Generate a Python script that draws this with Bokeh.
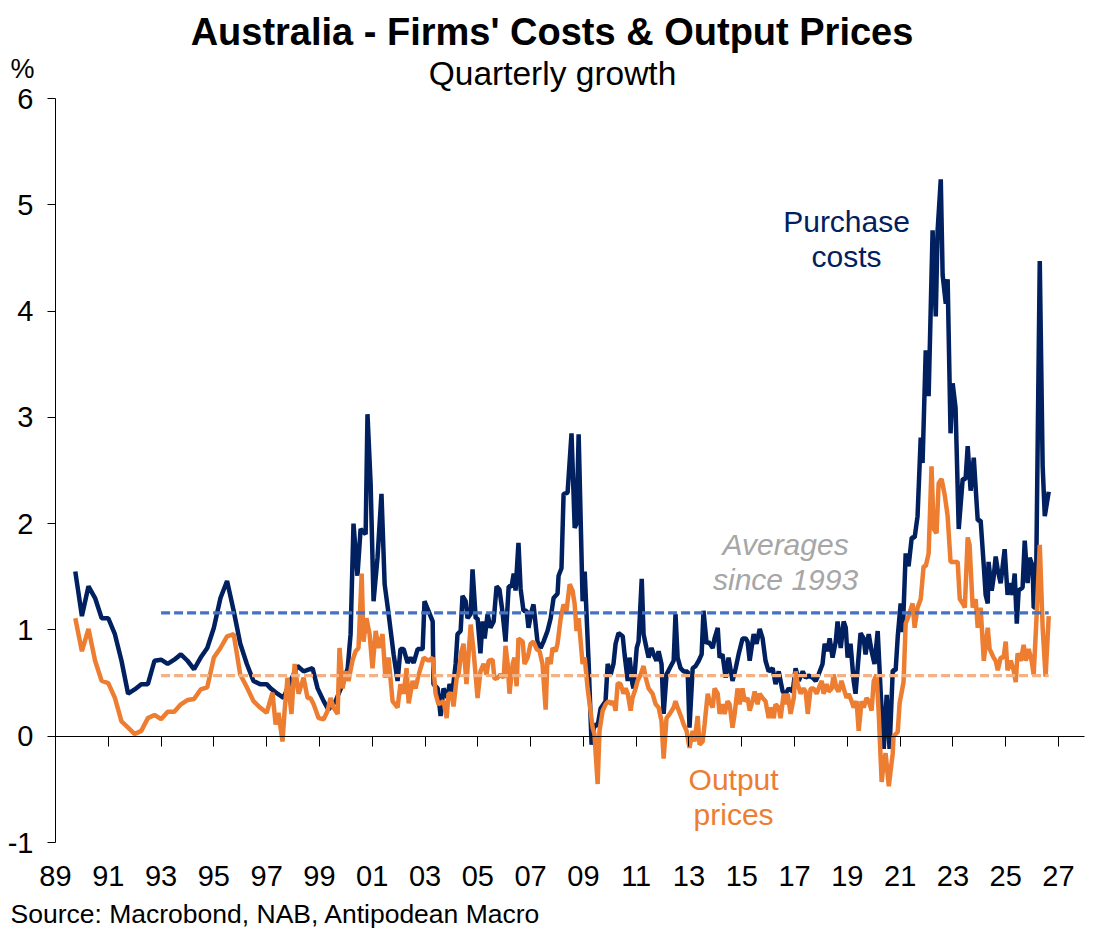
from bokeh.plotting import figure
from bokeh.models import Range1d, FixedTicker, LinearAxis, Label
from bokeh.embed import file_html
from bokeh.resources import INLINE

FONT = "Liberation Sans"
NAVY = "#002060"
ORANGE = "#ED7D31"
AVG_BLUE = "#4472C4"
AVG_ORANGE = "#F4B183"
GREY = "#A6A6A6"

# ---------------- data ----------------
# quarterly observations, 1989Q3 .. 1997Q1
q_dates = [1989.75 + 0.25 * k for k in range(30)]
pc_q = [1.55, 1.13, 1.41, 1.30, 1.11, 1.11, 0.96, 0.71, 0.40, 0.44,
        0.49, 0.49, 0.71, 0.72, 0.68, 0.72, 0.77, 0.71, 0.63, 0.74,
        0.83, 1.02, 1.30, 1.46, 1.18, 0.87, 0.68, 0.52, 0.49, 0.49]
op_q = [1.11, 0.80, 1.01, 0.71, 0.52, 0.50, 0.36, 0.14, 0.08, 0.02,
        0.05, 0.17, 0.20, 0.16, 0.23, 0.23, 0.30, 0.34, 0.35, 0.44,
        0.46, 0.74, 0.83, 0.94, 0.96, 0.58, 0.46, 0.33, 0.27, 0.22]

# monthly observations from 1997 (decimal years)
pc_m_dates = [
    1997.15, 1997.41, 1997.64, 1997.90,
    1998.17, 1998.40, 1998.74, 1998.93,
    1999.16, 1999.34, 1999.61, 1999.88,
    2000.07, 2000.18, 2000.29, 2000.44, 2000.56, 2000.75, 2000.82, 2000.94,
    2001.05, 2001.20, 2001.35, 2001.47, 2001.62, 2001.81, 2001.96,
    2002.07, 2002.19, 2002.34, 2002.45, 2002.57, 2002.72, 2002.91, 2002.98,
    2003.13, 2003.29, 2003.32, 2003.48, 2003.59, 2003.70, 2003.85, 2003.93,
    2004.04, 2004.16, 2004.23, 2004.35, 2004.42, 2004.54, 2004.61, 2004.73, 2004.80, 2004.92, 2004.99,
    2005.10, 2005.18, 2005.26, 2005.37, 2005.48, 2005.60, 2005.71, 2005.82, 2005.94,
    2006.05, 2006.17, 2006.28, 2006.36, 2006.43, 2006.54, 2006.62, 2006.73, 2006.85, 2006.92,
    2007.04, 2007.11, 2007.26, 2007.38, 2007.49, 2007.64, 2007.76, 2007.87,
    2008.02, 2008.06, 2008.17, 2008.25, 2008.40, 2008.55, 2008.67, 2008.74, 2008.82, 2008.97,
    2009.05, 2009.20, 2009.31, 2009.42, 2009.54, 2009.65, 2009.84, 2009.92,
    2010.03, 2010.14, 2010.22, 2010.33, 2010.49, 2010.56, 2010.68, 2010.75, 2010.86, 2010.90,
    2011.02, 2011.09, 2011.21, 2011.28, 2011.39, 2011.47, 2011.58, 2011.66, 2011.77, 2011.85, 2011.96,
    2012.04, 2012.15, 2012.27, 2012.42, 2012.49, 2012.57, 2012.68, 2012.80, 2012.95,
    2013.02, 2013.14, 2013.25, 2013.37, 2013.48, 2013.55, 2013.67, 2013.74, 2013.90, 2013.97,
    2014.09, 2014.16, 2014.27, 2014.39, 2014.50, 2014.65, 2014.77, 2014.88,
    2015.03, 2015.15, 2015.22, 2015.30, 2015.45, 2015.56, 2015.68, 2015.79, 2015.90,
    2016.02, 2016.17, 2016.28, 2016.40, 2016.55, 2016.66, 2016.78, 2016.93,
    2017.04, 2017.16, 2017.31, 2017.42, 2017.53, 2017.69, 2017.80, 2017.91,
    2018.06, 2018.14, 2018.25, 2018.33, 2018.44, 2018.56, 2018.63, 2018.75, 2018.86, 2018.94,
    2019.01, 2019.12, 2019.24, 2019.31, 2019.39, 2019.50, 2019.62, 2019.69, 2019.81, 2019.92,
    2020.03, 2020.15, 2020.26, 2020.38, 2020.49, 2020.60, 2020.72, 2020.83, 2020.91,
    2021.02, 2021.10, 2021.21, 2021.32, 2021.44, 2021.55, 2021.66, 2021.78, 2021.85, 2021.97,
    2022.08, 2022.23, 2022.35, 2022.42, 2022.54, 2022.61, 2022.73, 2022.80, 2022.91, 2022.99,
    2023.10, 2023.22, 2023.37, 2023.48, 2023.56, 2023.67, 2023.79, 2023.94,
    2024.05, 2024.17, 2024.24, 2024.32, 2024.35, 2024.47, 2024.54, 2024.62, 2024.70, 2024.81, 2024.96,
    2025.07, 2025.15, 2025.26, 2025.34, 2025.42, 2025.49, 2025.64, 2025.72, 2025.83, 2025.91,
    2026.02, 2026.06, 2026.14, 2026.29, 2026.40, 2026.48, 2026.63,
]
pc_m = [
    0.45, 0.40, 0.36, 0.52,
    0.66, 0.61, 0.64, 0.45,
    0.33, 0.25, 0.33, 0.49,
    0.64, 0.96, 2.00, 1.51, 1.95, 1.90, 3.03, 2.37,
    1.27, 1.68, 2.28, 1.43, 1.15, 0.77, 0.52,
    0.82, 0.82, 0.69, 0.74, 0.69, 0.82, 0.82, 1.27,
    1.18, 1.08, 0.49, 0.45, 0.19, 0.45, 0.36, 0.49,
    0.42, 0.68, 0.96, 0.99, 1.32, 1.27, 1.11, 1.15, 1.57, 1.11, 1.11,
    0.78, 1.08, 0.92, 1.15, 1.02, 1.08, 1.41, 1.38, 1.16,
    0.89, 1.41, 1.41, 1.53, 1.37, 1.82, 1.39, 1.18, 1.18, 1.02,
    1.18, 1.24, 0.89, 0.83, 0.89, 0.99, 1.11, 1.30,
    1.34, 1.51, 1.58, 2.28, 2.29, 2.85, 1.96, 2.00, 2.84, 1.27,
    1.55, 0.68, -0.08, 0.11, 0.10, 0.26, 0.33, 0.68,
    0.58, 0.68, 0.87, 0.97, 0.94, 0.77, 0.52, 0.74, 0.49, 0.45,
    0.83, 0.89, 1.48, 0.96, 0.83, 0.74, 0.83, 0.77, 0.71, 0.80, 0.68,
    0.21, 0.58, 0.64, 0.71, 1.15, 0.74, 0.64, 0.61, 0.61,
    0.08, 0.64, 0.66, 0.71, 0.77, 1.18, 0.87, 0.89, 0.83, 0.92,
    1.02, 0.74, 0.77, 0.55, 0.74, 0.52, 0.64, 0.77,
    0.92, 0.92, 0.89, 0.71, 0.96, 0.87, 1.01, 0.92, 0.71,
    0.61, 0.64, 0.49, 0.61, 0.42, 0.40, 0.45, 0.42,
    0.64, 0.52, 0.61, 0.55, 0.57, 0.55, 0.52, 0.58,
    0.68, 0.87, 0.80, 0.92, 0.74, 0.89, 1.08, 0.83, 1.08, 1.02,
    0.74, 0.87, 0.52, 0.40, 0.64, 0.97, 0.92, 0.77, 0.96, 0.80,
    0.68, 0.99, 0.43, -0.12, 0.39, -0.12, 0.62, 0.62, 0.94,
    1.25, 0.98, 1.72, 1.60, 1.87, 1.87, 2.07, 2.81, 2.57, 3.63,
    3.20, 4.76, 3.95, 4.76, 5.24, 4.34, 4.07, 4.30, 2.85, 3.32,
    3.09, 1.95, 2.42, 2.42, 2.73, 2.31, 2.62, 2.03,
    2.03, 1.60, 1.33, 1.25, 1.64, 1.37, 1.49, 1.69, 1.56, 1.44, 1.76,
    1.33, 1.44, 1.33, 1.53, 1.06, 1.37, 1.40, 1.84, 1.44, 1.68,
    1.60, 1.21, 1.21, 4.47, 2.54, 2.07, 2.30,
]

op_m_dates = [
    1997.22, 1997.34, 1997.45, 1997.60, 1997.68, 1997.79, 1997.94,
    1998.06, 1998.21, 1998.40, 1998.55, 1998.66, 1998.78, 1998.97,
    1999.16, 1999.31, 1999.42, 1999.53, 1999.69, 1999.76, 1999.88, 1999.99,
    2000.10, 2000.25, 2000.37, 2000.48, 2000.60, 2000.67, 2000.78, 2000.90,
    2001.01, 2001.13, 2001.24, 2001.39, 2001.50, 2001.62, 2001.77, 2001.96,
    2002.07, 2002.19, 2002.30, 2002.38, 2002.53, 2002.64, 2002.76, 2002.95,
    2003.13, 2003.29, 2003.40, 2003.51, 2003.70, 2003.82, 2003.89,
    2004.01, 2004.08, 2004.20, 2004.27, 2004.38, 2004.46, 2004.57, 2004.73, 2004.84, 2004.99,
    2005.10, 2005.22, 2005.33, 2005.41, 2005.56, 2005.63, 2005.75, 2005.86, 2005.98,
    2006.05, 2006.13, 2006.20, 2006.32, 2006.39, 2006.47, 2006.54, 2006.70, 2006.77, 2006.89,
    2007.00, 2007.11, 2007.23, 2007.34, 2007.45, 2007.57, 2007.64, 2007.76, 2007.83, 2007.95,
    2008.02, 2008.14, 2008.25, 2008.36, 2008.48, 2008.59, 2008.67, 2008.74, 2008.82, 2008.97,
    2009.05, 2009.16, 2009.27, 2009.35, 2009.42, 2009.54, 2009.61, 2009.73, 2009.84, 2009.96,
    2010.07, 2010.14, 2010.22, 2010.30, 2010.41, 2010.52, 2010.60, 2010.68, 2010.79, 2010.86, 2010.98,
    2011.05, 2011.17, 2011.28, 2011.36, 2011.47, 2011.62, 2011.74, 2011.85, 2011.96,
    2012.04, 2012.15, 2012.27, 2012.42, 2012.49, 2012.57, 2012.72, 2012.80, 2012.91,
    2013.02, 2013.14, 2013.21, 2013.33, 2013.40, 2013.52, 2013.59, 2013.71, 2013.78, 2013.90, 2013.97,
    2014.09, 2014.16, 2014.27, 2014.35, 2014.46, 2014.54, 2014.65, 2014.73, 2014.84, 2014.92,
    2015.03, 2015.11, 2015.22, 2015.30, 2015.41, 2015.49, 2015.60, 2015.68, 2015.79, 2015.90,
    2016.02, 2016.09, 2016.21, 2016.28, 2016.40, 2016.47, 2016.59, 2016.66, 2016.74, 2016.85, 2016.97,
    2017.04, 2017.12, 2017.23, 2017.34, 2017.42, 2017.50, 2017.61, 2017.72, 2017.84, 2017.91,
    2018.03, 2018.10, 2018.22, 2018.29, 2018.41, 2018.48, 2018.59, 2018.67, 2018.78, 2018.86, 2018.97,
    2019.05, 2019.16, 2019.24, 2019.35, 2019.43, 2019.54, 2019.62, 2019.73, 2019.81, 2019.92,
    2020.00, 2020.11, 2020.19, 2020.30, 2020.38, 2020.45, 2020.57, 2020.72, 2020.75, 2020.91, 2020.98,
    2021.13, 2021.21, 2021.32, 2021.47, 2021.55, 2021.66, 2021.78, 2021.89, 2021.97,
    2022.08, 2022.19, 2022.27, 2022.38, 2022.46, 2022.57, 2022.69, 2022.80, 2022.91,
    2023.03, 2023.18, 2023.26, 2023.37, 2023.45, 2023.56, 2023.63, 2023.75, 2023.86, 2023.94,
    2024.05, 2024.17, 2024.32, 2024.39, 2024.54, 2024.62, 2024.70, 2024.81, 2024.92,
    2025.00, 2025.07, 2025.19, 2025.30, 2025.38, 2025.45, 2025.57, 2025.68, 2025.76, 2025.87, 2025.98,
    2026.06, 2026.17, 2026.29, 2026.40, 2026.51, 2026.63,
]
op_m = [
    0.41, 0.11, 0.22, -0.05, 0.24, 0.55, 0.21,
    0.68, 0.40, 0.55, 0.36, 0.36, 0.30, 0.17,
    0.16, 0.24, 0.36, 0.27, 0.21, 0.83, 0.45, 0.61,
    0.52, 0.71, 0.80, 0.83, 1.53, 0.89, 1.11, 0.96,
    0.64, 0.99, 0.83, 0.96, 0.55, 0.74, 0.33, 0.27,
    0.49, 0.40, 0.64, 0.31, 0.52, 0.45, 0.58, 0.74,
    0.71, 0.74, 0.40, 0.30, 0.33, 0.17, 0.40,
    0.40, 0.28, 0.55, 0.58, 0.80, 0.87, 0.49, 1.05, 0.80, 0.36,
    0.61, 0.68, 0.58, 0.71, 0.72, 0.54, 0.55, 0.58, 0.55,
    0.85, 0.68, 0.40, 0.68, 0.74, 0.47, 0.92, 0.89, 0.68, 0.74,
    0.87, 0.89, 0.82, 0.80, 0.68, 0.25, 0.74, 0.68, 0.83, 0.80,
    0.87, 1.11, 1.24, 1.18, 1.43, 1.37, 1.24, 0.99, 1.11, 0.68,
    0.74, 0.45, 0.24, 0.08, 0.02, -0.45, 0.05, 0.24, 0.30, 0.33,
    0.30, 0.33, 0.24, 0.50, 0.49, 0.40, 0.45, 0.40, 0.24, 0.36, 0.45,
    0.52, 0.58, 0.66, 0.55, 0.45, 0.40, 0.30, 0.27, 0.14,
    -0.21, 0.17, 0.21, 0.27, 0.33, 0.27, 0.17, 0.11, 0.05,
    -0.11, 0.05, -0.05, 0.19, -0.08, -0.05, 0.11, 0.40, 0.33, 0.27, 0.45,
    0.40, 0.21, 0.30, 0.21, 0.33, 0.30, 0.08, 0.21, 0.45, 0.30,
    0.45, 0.33, 0.36, 0.24, 0.33, 0.42, 0.30, 0.40, 0.36, 0.33,
    0.17, 0.27, 0.17, 0.30, 0.27, 0.17, 0.40, 0.30, 0.40, 0.21, 0.36,
    0.61, 0.49, 0.40, 0.45, 0.42, 0.21, 0.45, 0.45, 0.40, 0.45,
    0.52, 0.40, 0.49, 0.42, 0.45, 0.58, 0.45, 0.42, 0.52, 0.45, 0.36,
    0.40, 0.33, 0.27, 0.33, 0.05, 0.33, 0.27, 0.36, 0.33, 0.24,
    0.52, 0.58, 0.21, -0.43, -0.24, -0.16, -0.47, -0.16, 0.00, 0.04, 0.31,
    0.51, 1.06, 1.13, 1.25, 1.02, 1.21, 1.29, 1.60, 1.60,
    1.72, 2.54, 1.95, 1.91, 2.38, 2.42, 2.27, 2.07, 1.64,
    1.64, 1.64, 1.29, 1.25, 1.21, 1.87, 1.80, 1.21, 1.29, 1.02,
    1.21, 0.71, 1.02, 0.82, 0.74, 0.71, 0.62, 0.74, 0.74,
    0.89, 0.62, 0.71, 0.62, 0.51, 0.78, 0.71, 0.86, 0.71, 0.82, 0.71,
    0.58, 1.13, 1.80, 1.02, 0.56, 1.13,
]

# averages since 1993
avg_start = 1993.0
pc_avg = 1.16
op_avg = 0.57

x_ticks = list(range(1989, 2028, 2))
x_labels = {t: str(t)[2:] for t in x_ticks}
y_ticks = [-1, 0, 1, 2, 3, 4, 5, 6]
y_labels = {t: str(t) for t in y_ticks}

# --------------- assemble ---------------
n_pc = min(len(pc_m_dates), len(pc_m))
n_op = min(len(op_m_dates), len(op_m))
pc_x = q_dates + pc_m_dates[:n_pc]
pc_y = pc_q + pc_m[:n_pc]
op_x = q_dates + op_m_dates[:n_op]
op_y = op_q + op_m[:n_op]
end_date = max(pc_x[-1], op_x[-1])

# --------------- layout: the frame fills the canvas ---------------
W, H = 1096, 932
px_per_year = (1058 - 55) / 38.0
px_per_unit = (842 - 98) / 7.0
x_start = 1989 - 55 / px_per_year
x_end = x_start + W / px_per_year
y_top = 6 + 98 / px_per_unit
y_bottom = y_top - H / px_per_unit

p = figure(width=W, height=H,
           x_range=Range1d(x_start, x_end), y_range=Range1d(y_bottom, y_top),
           x_axis_location=None, y_axis_location=None,
           output_backend="svg", toolbar_location=None, min_border=0)
p.outline_line_color = None
p.grid.visible = False
p.background_fill_color = "white"
p.border_fill_color = "white"

xax = LinearAxis(fixed_location=0, bounds=(1989, 2028),
                 ticker=FixedTicker(ticks=x_ticks),
                 major_label_overrides=x_labels,
                 major_tick_out=10, major_tick_in=0,
                 minor_tick_line_color=None,
                 axis_line_color="black", major_tick_line_color="black",
                 major_label_standoff=120,
                 major_label_text_font=FONT, major_label_text_font_size="29px",
                 major_label_text_color="black")
p.add_layout(xax, "below")

yax = LinearAxis(fixed_location=1989, bounds=(-1, 6),
                 ticker=FixedTicker(ticks=y_ticks),
                 major_label_overrides=y_labels,
                 major_tick_out=8, major_tick_in=0,
                 minor_tick_line_color=None,
                 axis_line_color="black", major_tick_line_color="black",
                 major_label_standoff=14,
                 major_label_text_font=FONT, major_label_text_font_size="29px",
                 major_label_text_color="black")
p.add_layout(yax, "left")

p.line(pc_x, pc_y, line_color=NAVY, line_width=4.5)
p.line(op_x, op_y, line_color=ORANGE, line_width=4.5)
p.line([avg_start, end_date], [pc_avg, pc_avg], line_color=AVG_BLUE, line_width=3.3, line_dash="9 4")
p.line([avg_start, end_date], [op_avg, op_avg], line_color=AVG_ORANGE, line_width=3.3, line_dash="9 4")

# titles and notes (screen units, from the bottom-left of the canvas)
p.add_layout(Label(x=551.5, y=H - 31, x_units="screen", y_units="screen",
                   text="Australia - Firms' Costs & Output Prices", text_align="center",
                   text_baseline="alphabetic", text_font=FONT, text_font_style="bold",
                   text_font_size="38px", text_color="black"))
p.add_layout(Label(x=552, y=H - 73, x_units="screen", y_units="screen",
                   text="Quarterly growth", text_align="center",
                   text_baseline="alphabetic", text_font=FONT,
                   text_font_size="33.5px", text_color="black"))
p.add_layout(Label(x=10, y=H - 68, x_units="screen", y_units="screen",
                   text="%", text_align="left", text_baseline="alphabetic",
                   text_font=FONT, text_font_size="27px", text_color="black"))
p.add_layout(Label(x=10, y=H - 913, x_units="screen", y_units="screen",
                   text="Source: Macrobond, NAB, Antipodean Macro", text_align="left",
                   text_baseline="alphabetic", text_font=FONT,
                   text_font_size="26.5px", text_color="black"))

# in-chart annotations
for txt, xx, yy, col, style in [
    ("Purchase", 2018.97, 4.84, NAVY, "normal"),
    ("costs", 2018.97, 4.51, NAVY, "normal"),
    ("Averages", 2016.66, 1.80, GREY, "italic"),
    ("since 1993", 2016.66, 1.47, GREY, "italic"),
    ("Output", 2014.69, -0.405, ORANGE, "normal"),
    ("prices", 2014.69, -0.735, ORANGE, "normal"),
]:
    p.add_layout(Label(x=xx, y=yy, text=txt, text_align="center",
                       text_baseline="alphabetic", text_font=FONT,
                       text_font_style=style, text_font_size="30px",
                       text_color=col))

open("out.html", "w").write(file_html(p, INLINE))
